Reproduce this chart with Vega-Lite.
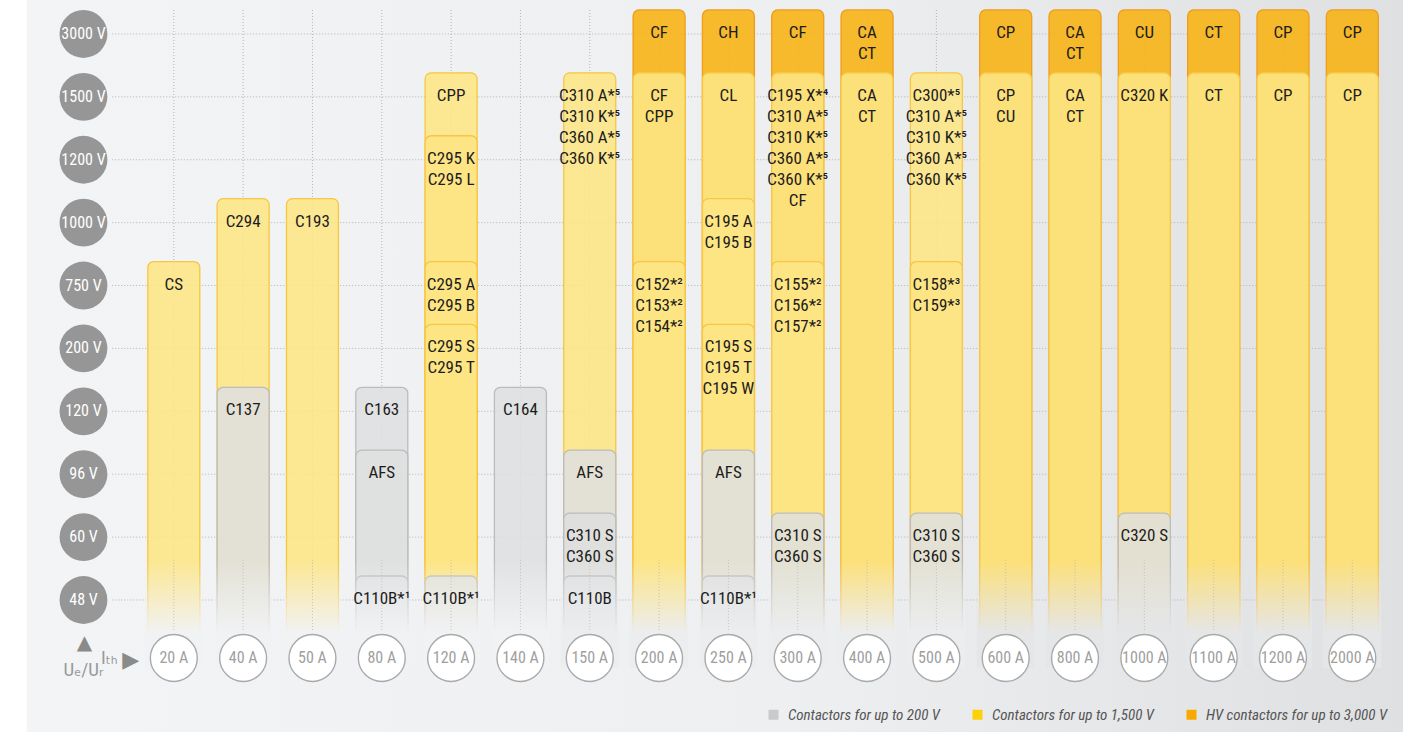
{
  "$schema": "https://vega.github.io/schema/vega-lite/v6.json",
  "width": 1408,
  "height": 732,
  "autosize": {"type": "fit", "contains": "padding"},
  "padding": 0,
  "background": "#ffffff",
  "config": {"view": {"stroke": null}},
  "datasets": {
    "cols": [
      {"cur": "20 A", "ci": 0}, {"cur": "40 A", "ci": 1}, {"cur": "50 A", "ci": 2},
      {"cur": "80 A", "ci": 3}, {"cur": "120 A", "ci": 4}, {"cur": "140 A", "ci": 5},
      {"cur": "150 A", "ci": 6}, {"cur": "200 A", "ci": 7}, {"cur": "250 A", "ci": 8},
      {"cur": "300 A", "ci": 9}, {"cur": "400 A", "ci": 10}, {"cur": "500 A", "ci": 11},
      {"cur": "600 A", "ci": 12}, {"cur": "800 A", "ci": 13}, {"cur": "1000 A", "ci": 14},
      {"cur": "1100 A", "ci": 15}, {"cur": "1200 A", "ci": 16}, {"cur": "2000 A", "ci": 17}
    ],
    "volts": [
      {"volt": "48 V", "lv": 0}, {"volt": "60 V", "lv": 1}, {"volt": "96 V", "lv": 2},
      {"volt": "120 V", "lv": 3}, {"volt": "200 V", "lv": 4}, {"volt": "750 V", "lv": 5},
      {"volt": "1000 V", "lv": 6}, {"volt": "1200 V", "lv": 7}, {"volt": "1500 V", "lv": 8},
      {"volt": "3000 V", "lv": 9}
    ],
    "segs": [
      {"cur": "20 A", "ci": 0, "lv": 5, "type": "Contactors for up to 1,500 V", "label": "CS"},
      {"cur": "40 A", "ci": 1, "lv": 6, "type": "Contactors for up to 1,500 V", "label": "C294"},
      {"cur": "40 A", "ci": 1, "lv": 3, "type": "Contactors for up to 200 V", "label": "C137"},
      {"cur": "50 A", "ci": 2, "lv": 6, "type": "Contactors for up to 1,500 V", "label": "C193"},
      {"cur": "80 A", "ci": 3, "lv": 3, "type": "Contactors for up to 200 V", "label": "C163"},
      {"cur": "80 A", "ci": 3, "lv": 2, "type": "Contactors for up to 200 V", "label": "AFS"},
      {"cur": "80 A", "ci": 3, "lv": 0, "type": "Contactors for up to 200 V", "label": "C110B*¹"},
      {"cur": "120 A", "ci": 4, "lv": 8, "type": "Contactors for up to 1,500 V", "label": "CPP"},
      {"cur": "120 A", "ci": 4, "lv": 7, "type": "Contactors for up to 1,500 V", "label": "C295 K\nC295 L"},
      {"cur": "120 A", "ci": 4, "lv": 5, "type": "Contactors for up to 1,500 V", "label": "C295 A\nC295 B"},
      {"cur": "120 A", "ci": 4, "lv": 4, "type": "Contactors for up to 1,500 V", "label": "C295 S\nC295 T"},
      {"cur": "120 A", "ci": 4, "lv": 0, "type": "Contactors for up to 200 V", "label": "C110B*¹"},
      {"cur": "140 A", "ci": 5, "lv": 3, "type": "Contactors for up to 200 V", "label": "C164"},
      {"cur": "150 A", "ci": 6, "lv": 8, "type": "Contactors for up to 1,500 V", "label": "C310 A*⁵\nC310 K*⁵\nC360 A*⁵\nC360 K*⁵"},
      {"cur": "150 A", "ci": 6, "lv": 2, "type": "Contactors for up to 200 V", "label": "AFS"},
      {"cur": "150 A", "ci": 6, "lv": 1, "type": "Contactors for up to 200 V", "label": "C310 S\nC360 S"},
      {"cur": "150 A", "ci": 6, "lv": 0, "type": "Contactors for up to 200 V", "label": "C110B"},
      {"cur": "200 A", "ci": 7, "lv": 9, "type": "HV contactors for up to 3,000 V", "label": "CF"},
      {"cur": "200 A", "ci": 7, "lv": 8, "type": "Contactors for up to 1,500 V", "label": "CF\nCPP"},
      {"cur": "200 A", "ci": 7, "lv": 5, "type": "Contactors for up to 1,500 V", "label": "C152*²\nC153*²\nC154*²"},
      {"cur": "250 A", "ci": 8, "lv": 9, "type": "HV contactors for up to 3,000 V", "label": "CH"},
      {"cur": "250 A", "ci": 8, "lv": 8, "type": "Contactors for up to 1,500 V", "label": "CL"},
      {"cur": "250 A", "ci": 8, "lv": 6, "type": "Contactors for up to 1,500 V", "label": "C195 A\nC195 B"},
      {"cur": "250 A", "ci": 8, "lv": 4, "type": "Contactors for up to 1,500 V", "label": "C195 S\nC195 T\nC195 W"},
      {"cur": "250 A", "ci": 8, "lv": 2, "type": "Contactors for up to 200 V", "label": "AFS"},
      {"cur": "250 A", "ci": 8, "lv": 0, "type": "Contactors for up to 200 V", "label": "C110B*¹"},
      {"cur": "300 A", "ci": 9, "lv": 9, "type": "HV contactors for up to 3,000 V", "label": "CF"},
      {"cur": "300 A", "ci": 9, "lv": 8, "type": "Contactors for up to 1,500 V", "label": "C195 X*⁴\nC310 A*⁵\nC310 K*⁵\nC360 A*⁵\nC360 K*⁵\nCF"},
      {"cur": "300 A", "ci": 9, "lv": 5, "type": "Contactors for up to 1,500 V", "label": "C155*²\nC156*²\nC157*²"},
      {"cur": "300 A", "ci": 9, "lv": 1, "type": "Contactors for up to 200 V", "label": "C310 S\nC360 S"},
      {"cur": "400 A", "ci": 10, "lv": 9, "type": "HV contactors for up to 3,000 V", "label": "CA\nCT"},
      {"cur": "400 A", "ci": 10, "lv": 8, "type": "Contactors for up to 1,500 V", "label": "CA\nCT"},
      {"cur": "500 A", "ci": 11, "lv": 8, "type": "Contactors for up to 1,500 V", "label": "C300*⁵\nC310 A*⁵\nC310 K*⁵\nC360 A*⁵\nC360 K*⁵"},
      {"cur": "500 A", "ci": 11, "lv": 5, "type": "Contactors for up to 1,500 V", "label": "C158*³\nC159*³"},
      {"cur": "500 A", "ci": 11, "lv": 1, "type": "Contactors for up to 200 V", "label": "C310 S\nC360 S"},
      {"cur": "600 A", "ci": 12, "lv": 9, "type": "HV contactors for up to 3,000 V", "label": "CP"},
      {"cur": "600 A", "ci": 12, "lv": 8, "type": "Contactors for up to 1,500 V", "label": "CP\nCU"},
      {"cur": "800 A", "ci": 13, "lv": 9, "type": "HV contactors for up to 3,000 V", "label": "CA\nCT"},
      {"cur": "800 A", "ci": 13, "lv": 8, "type": "Contactors for up to 1,500 V", "label": "CA\nCT"},
      {"cur": "1000 A", "ci": 14, "lv": 9, "type": "HV contactors for up to 3,000 V", "label": "CU"},
      {"cur": "1000 A", "ci": 14, "lv": 8, "type": "Contactors for up to 1,500 V", "label": "C320 K"},
      {"cur": "1000 A", "ci": 14, "lv": 1, "type": "Contactors for up to 200 V", "label": "C320 S"},
      {"cur": "1100 A", "ci": 15, "lv": 9, "type": "HV contactors for up to 3,000 V", "label": "CT"},
      {"cur": "1100 A", "ci": 15, "lv": 8, "type": "Contactors for up to 1,500 V", "label": "CT"},
      {"cur": "1200 A", "ci": 16, "lv": 9, "type": "HV contactors for up to 3,000 V", "label": "CP"},
      {"cur": "1200 A", "ci": 16, "lv": 8, "type": "Contactors for up to 1,500 V", "label": "CP"},
      {"cur": "2000 A", "ci": 17, "lv": 9, "type": "HV contactors for up to 3,000 V", "label": "CP"},
      {"cur": "2000 A", "ci": 17, "lv": 8, "type": "Contactors for up to 1,500 V", "label": "CP"}
    ],
    "one": [{"k": 1}]
  },
  "resolve": {"scale": {"color": "independent"}, "legend": {"color": "independent"}},
  "layer": [
    {
      "data": {"name": "segs"},
      "mark": {"type": "square"},
      "encoding": {
        "x": {"field": "ci", "type": "quantitative", "axis": null, "scale": {"domain": [-2.435, 17.731], "nice": false, "zero": false}},
        "y": {"field": "lv", "type": "quantitative", "axis": null, "scale": {"domain": [-2.099, 9.54], "nice": false, "zero": false}},
        "color": {
          "field": "type", "type": "nominal",
          "scale": {"domain": ["Contactors for up to 200 V", "Contactors for up to 1,500 V", "HV contactors for up to 3,000 V"], "range": ["#c9cacc", "#fdd10a", "#f8a800"]},
          "legend": {
            "orient": "none", "legendX": 766, "legendY": 707, "direction": "horizontal", "title": null,
            "symbolType": "square", "symbolSize": 100, "symbolStrokeWidth": 0, "symbolOpacity": 1,
            "labelFontStyle": "italic", "labelFont": "Liberation Sans Narrow, Roboto Condensed, DejaVu Sans Condensed, sans-serif",
            "labelFontSize": 15, "labelColor": "#555555", "labelLimit": 400, "columnPadding": 30, "labelOffset": 7, "padding": 0
          }
        }
      }
    },
    {
      "data": {"name": "one"},
      "mark": {"type": "rect", "fill": {"gradient": "linear", "x1": 0, "y1": 0, "x2": 1, "y2": 0, "stops": [{"offset": 0, "color": "#f3f4f6"}, {"offset": 0.55, "color": "#eeeff1"}, {"offset": 1, "color": "#dfe0e2"}]}},
      "encoding": {
        "x": {"datum": -2.12, "type": "quantitative", "scale": {"domain": [-2.435, 17.731], "nice": false, "zero": false}},
        "x2": {"datum": 17.731},
        "y": {"datum": 9.54, "type": "quantitative", "scale": {"domain": [-2.099, 9.54], "nice": false, "zero": false}},
        "y2": {"datum": -2.099}
      }
    },
    {
      "data": {"name": "volts"},
      "mark": {"type": "rule", "color": "#b3b3b3", "strokeDash": [1, 2], "strokeWidth": 1},
      "encoding": {
        "y": {"field": "lv", "type": "quantitative", "scale": {"domain": [-2.099, 9.54], "nice": false, "zero": false}},
        "x": {"datum": -0.888, "type": "quantitative", "scale": {"domain": [-2.435, 17.731], "nice": false, "zero": false}},
        "x2": {"datum": 17.4}
      }
    },
    {
      "data": {"name": "cols"},
      "mark": {"type": "rule", "color": "#b3b3b3", "strokeDash": [1, 2], "strokeWidth": 1},
      "encoding": {
        "x": {"field": "ci", "type": "quantitative", "scale": {"domain": [-2.435, 17.731], "nice": false, "zero": false}},
        "y": {"datum": 9.381, "type": "quantitative", "scale": {"domain": [-2.099, 9.54], "nice": false, "zero": false}},
        "y2": {"datum": -0.509}
      }
    },
    {
      "data": {"name": "segs"},
      "mark": {"type": "bar", "width": 52, "cornerRadius": 6, "strokeWidth": 1.3, "yOffset": -24},
      "encoding": {
        "x": {"field": "ci", "type": "quantitative", "scale": {"domain": [-2.435, 17.731], "nice": false, "zero": false}},
        "y": {"field": "lv", "type": "quantitative", "scale": {"domain": [-2.099, 9.54], "nice": false, "zero": false}},
        "y2": {"datum": -1.0},
        "color": {
          "field": "type", "type": "nominal",
          "scale": {"domain": ["Contactors for up to 200 V", "Contactors for up to 1,500 V", "HV contactors for up to 3,000 V"], "range": ["#dedfdf", "#fde584", "#f7b416"]},
          "legend": null
        },
        "fillOpacity": {
          "field": "type", "type": "nominal",
          "scale": {"domain": ["Contactors for up to 200 V", "Contactors for up to 1,500 V", "HV contactors for up to 3,000 V"], "range": [0.86, 0.9, 1]},
          "legend": null
        },
        "stroke": {
          "field": "type", "type": "nominal",
          "scale": {"domain": ["Contactors for up to 200 V", "Contactors for up to 1,500 V", "HV contactors for up to 3,000 V"], "range": ["#bcbcbc", "#f6c644", "#ee9c1e"]},
          "legend": null
        }
      }
    },
    {
      "data": {"name": "cols"},
      "transform": [{"filter": "datum.ci <= 5"}],
      "mark": {"type": "bar", "width": 58, "fill": {"gradient": "linear", "x1": 0, "y1": 0, "x2": 0, "y2": 1, "stops": [{"offset": 0, "color": "rgba(241,242,244,0)"}, {"offset": 0.68, "color": "rgba(241,242,244,1)"}, {"offset": 1, "color": "rgba(241,242,244,1)"}]}},
      "encoding": {
        "x": {"field": "ci", "type": "quantitative", "scale": {"domain": [-2.435, 17.731], "nice": false, "zero": false}},
        "y": {"datum": 0.636, "type": "quantitative", "scale": {"domain": [-2.099, 9.54], "nice": false, "zero": false}},
        "y2": {"datum": -1.081}
      }
    },
    {
      "data": {"name": "cols"},
      "transform": [{"filter": "datum.ci > 5 && datum.ci <= 11"}],
      "mark": {"type": "bar", "width": 58, "fill": {"gradient": "linear", "x1": 0, "y1": 0, "x2": 0, "y2": 1, "stops": [{"offset": 0, "color": "rgba(236,237,239,0)"}, {"offset": 0.68, "color": "rgba(236,237,239,1)"}, {"offset": 1, "color": "rgba(236,237,239,1)"}]}},
      "encoding": {
        "x": {"field": "ci", "type": "quantitative", "scale": {"domain": [-2.435, 17.731], "nice": false, "zero": false}},
        "y": {"datum": 0.636, "type": "quantitative", "scale": {"domain": [-2.099, 9.54], "nice": false, "zero": false}},
        "y2": {"datum": -1.081}
      }
    },
    {
      "data": {"name": "cols"},
      "transform": [{"filter": "datum.ci > 11"}],
      "mark": {"type": "bar", "width": 58, "fill": {"gradient": "linear", "x1": 0, "y1": 0, "x2": 0, "y2": 1, "stops": [{"offset": 0, "color": "rgba(229,230,232,0)"}, {"offset": 0.68, "color": "rgba(229,230,232,1)"}, {"offset": 1, "color": "rgba(229,230,232,1)"}]}},
      "encoding": {
        "x": {"field": "ci", "type": "quantitative", "scale": {"domain": [-2.435, 17.731], "nice": false, "zero": false}},
        "y": {"datum": 0.636, "type": "quantitative", "scale": {"domain": [-2.099, 9.54], "nice": false, "zero": false}},
        "y2": {"datum": -1.081}
      }
    },
    {
      "data": {"name": "cols"},
      "mark": {"type": "rule", "color": "#b3b3b3", "strokeDash": [1, 2], "strokeWidth": 1, "opacity": 0.7},
      "encoding": {
        "x": {"field": "ci", "type": "quantitative", "scale": {"domain": [-2.435, 17.731], "nice": false, "zero": false}},
        "y": {"datum": 0.636, "type": "quantitative", "scale": {"domain": [-2.099, 9.54], "nice": false, "zero": false}},
        "y2": {"datum": -0.509}
      }
    },
    {
      "data": {"name": "segs"},
      "mark": {"type": "text", "font": "Liberation Sans Narrow, Roboto Condensed, DejaVu Sans Condensed, sans-serif", "fontSize": 17, "lineHeight": 21, "lineBreak": "\n", "color": "#1c1c1c", "baseline": "top", "align": "center", "dy": -9},
      "encoding": {
        "x": {"field": "ci", "type": "quantitative", "scale": {"domain": [-2.435, 17.731], "nice": false, "zero": false}},
        "y": {"field": "lv", "type": "quantitative", "scale": {"domain": [-2.099, 9.54], "nice": false, "zero": false}},
        "text": {"field": "label"}
      }
    },
    {
      "data": {"name": "volts"},
      "mark": {"type": "point", "shape": "circle", "filled": true, "size": 2290, "color": "#969696", "opacity": 1},
      "encoding": {
        "y": {"field": "lv", "type": "quantitative", "scale": {"domain": [-2.099, 9.54], "nice": false, "zero": false}},
        "x": {"datum": -1.303, "type": "quantitative", "scale": {"domain": [-2.435, 17.731], "nice": false, "zero": false}}
      }
    },
    {
      "data": {"name": "volts"},
      "mark": {"type": "text", "font": "Liberation Sans Narrow, Roboto Condensed, DejaVu Sans Condensed, sans-serif", "fontSize": 16, "color": "#ffffff", "baseline": "middle", "align": "center"},
      "encoding": {
        "y": {"field": "lv", "type": "quantitative", "scale": {"domain": [-2.099, 9.54], "nice": false, "zero": false}},
        "x": {"datum": -1.303, "type": "quantitative", "scale": {"domain": [-2.435, 17.731], "nice": false, "zero": false}},
        "text": {"field": "volt"}
      }
    },
    {
      "data": {"name": "cols"},
      "mark": {"type": "point", "shape": "circle", "filled": true, "size": 2200, "fill": "#ffffff", "stroke": "#a9a9a9", "strokeWidth": 1.4, "opacity": 1},
      "encoding": {
        "x": {"field": "ci", "type": "quantitative", "scale": {"domain": [-2.435, 17.731], "nice": false, "zero": false}},
        "y": {"datum": -0.922, "type": "quantitative", "scale": {"domain": [-2.099, 9.54], "nice": false, "zero": false}}
      }
    },
    {
      "data": {"name": "cols"},
      "mark": {"type": "text", "font": "Liberation Sans Narrow, Roboto Condensed, DejaVu Sans Condensed, sans-serif", "fontSize": 16, "color": "#a0a0a0", "baseline": "middle", "align": "center"},
      "encoding": {
        "x": {"field": "ci", "type": "quantitative", "scale": {"domain": [-2.435, 17.731], "nice": false, "zero": false}},
        "y": {"datum": -0.922, "type": "quantitative", "scale": {"domain": [-2.099, 9.54], "nice": false, "zero": false}},
        "text": {"field": "cur"}
      }
    },
    {
      "data": {"values": [{"t": "▲"}]},
      "mark": {"type": "text", "font": "DejaVu Sans", "fontSize": 20, "color": "#8a8a8a", "baseline": "middle", "align": "center"},
      "encoding": {
        "x": {"datum": -1.289, "type": "quantitative", "scale": {"domain": [-2.435, 17.731], "nice": false, "zero": false}},
        "y": {"datum": -0.68, "type": "quantitative", "scale": {"domain": [-2.099, 9.54], "nice": false, "zero": false}},
        "text": {"field": "t"}
      }
    },
    {
      "data": {"values": [{"t": "Uₑ/Uᵣ"}]},
      "mark": {"type": "text", "font": "Liberation Sans Narrow, Roboto Condensed, DejaVu Sans Condensed, sans-serif", "fontSize": 19, "color": "#9a9a9a", "baseline": "middle", "align": "center"},
      "encoding": {
        "x": {"datum": -1.303, "type": "quantitative", "scale": {"domain": [-2.435, 17.731], "nice": false, "zero": false}},
        "y": {"datum": -1.11, "type": "quantitative", "scale": {"domain": [-2.099, 9.54], "nice": false, "zero": false}},
        "text": {"field": "t"}
      }
    },
    {
      "data": {"values": [{"t": "Iₜₕ"}]},
      "mark": {"type": "text", "font": "Liberation Sans Narrow, Roboto Condensed, DejaVu Sans Condensed, sans-serif", "fontSize": 19, "color": "#9a9a9a", "baseline": "middle", "align": "center"},
      "encoding": {
        "x": {"datum": -0.93, "type": "quantitative", "scale": {"domain": [-2.435, 17.731], "nice": false, "zero": false}},
        "y": {"datum": -0.922, "type": "quantitative", "scale": {"domain": [-2.099, 9.54], "nice": false, "zero": false}},
        "text": {"field": "t"}
      }
    },
    {
      "data": {"values": [{"t": "▶"}]},
      "mark": {"type": "text", "font": "DejaVu Sans", "fontSize": 22, "color": "#8a8a8a", "baseline": "middle", "align": "center"},
      "encoding": {
        "x": {"datum": -0.62, "type": "quantitative", "scale": {"domain": [-2.435, 17.731], "nice": false, "zero": false}},
        "y": {"datum": -0.95, "type": "quantitative", "scale": {"domain": [-2.099, 9.54], "nice": false, "zero": false}},
        "text": {"field": "t"}
      }
    }
  ]
}
